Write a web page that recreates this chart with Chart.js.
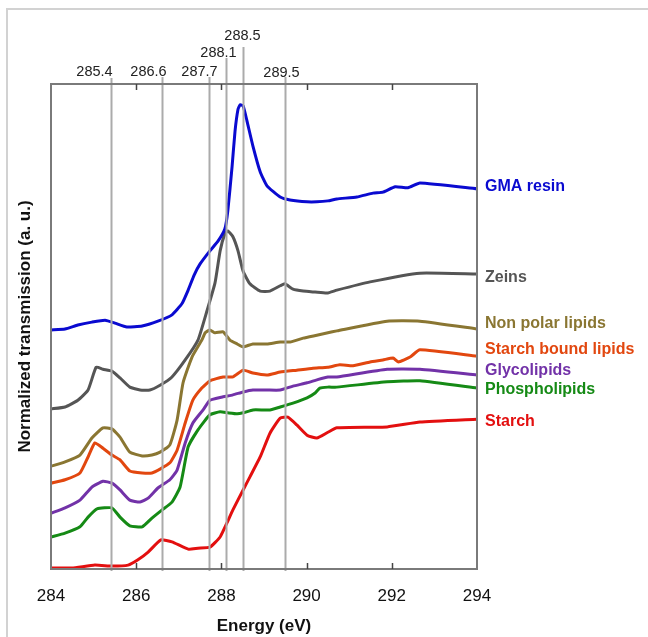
<!DOCTYPE html>
<html>
<head>
<meta charset="utf-8">
<title>C K-edge spectra</title>
<script src="https://cdn.jsdelivr.net/npm/chart.js@4.4.1/dist/chart.umd.min.js"></script>
<style>
  html, body { margin: 0; padding: 0; background: #fff; }
  #wrap { position: relative; width: 648px; height: 637px; overflow: hidden; }
  #frame { position: absolute; left: 6px; top: 8px; width: 700px; height: 700px;
           border-left: 2px solid #d2d2d2; border-top: 2px solid #d2d2d2; }
  #spectra { position: absolute; left: 0; top: 0; }
</style>
</head>
<body>
<div id="wrap">
  <div id="frame"></div>
  <canvas id="spectra" width="648" height="637"></canvas>
</div>
<script>
// energies (eV) and normalized transmission (a.u.)
const gmaE = [284.0, 284.33, 284.63, 284.96, 285.27, 285.5, 285.78, 286.14, 286.51, 286.84, 287.08, 287.22, 287.36, 287.5, 287.73, 287.92, 288.08, 288.15, 288.25, 288.32, 288.39, 288.44, 288.51, 288.6, 288.74, 288.91, 289.07, 289.38, 289.61, 290.01, 290.24, 290.5, 290.71, 291.18, 291.56, 291.79, 292.08, 292.38, 292.66, 294.0];
const gmaT = [49.3, 49.5, 50.3, 50.9, 51.3, 50.7, 49.9, 50.1, 51.1, 52.4, 54.8, 57.5, 60.6, 62.9, 65.6, 67.6, 70.1, 73.8, 82.9, 90.3, 94.8, 95.7, 95.5, 92.4, 87.2, 81.9, 79.0, 76.7, 76.1, 75.7, 75.7, 75.9, 76.3, 76.7, 77.5, 77.7, 78.8, 78.6, 79.6, 78.4];

const zeinE = [284.0, 284.33, 284.63, 284.87, 285.06, 285.22, 285.43, 285.62, 285.85, 286.09, 286.32, 286.56, 286.84, 287.15, 287.45, 287.66, 287.85, 287.97, 288.08, 288.15, 288.27, 288.39, 288.51, 288.67, 288.91, 289.14, 289.38, 289.49, 289.68, 289.92, 290.2, 290.48, 290.71, 291.49, 292.66, 294.0];
const zeinT = [33.0, 33.4, 34.8, 36.9, 41.6, 41.2, 40.8, 39.4, 37.5, 36.9, 36.9, 37.9, 39.6, 43.1, 47.2, 53.2, 59.0, 65.6, 69.1, 69.7, 68.5, 65.6, 61.4, 58.8, 57.3, 57.3, 58.4, 58.8, 57.7, 57.3, 57.1, 56.9, 57.5, 59.2, 61.0, 60.8];

const nonPolarE = [284.0, 284.33, 284.68, 284.96, 285.22, 285.43, 285.62, 285.85, 286.14, 286.37, 286.56, 286.79, 286.96, 287.1, 287.31, 287.54, 287.62, 287.73, 287.85, 288.04, 288.2, 288.37, 288.51, 288.74, 289.07, 289.38, 289.61, 289.92, 290.24, 290.5, 290.71, 291.89, 292.66, 294.0];
const nonPolarT = [21.2, 22.1, 23.5, 27.0, 29.1, 28.9, 27.2, 24.1, 23.3, 23.5, 24.1, 25.6, 30.7, 38.4, 43.7, 47.2, 48.7, 49.3, 48.7, 48.9, 47.2, 46.4, 45.8, 46.4, 46.4, 46.8, 46.8, 47.6, 48.2, 48.7, 49.1, 51.1, 51.1, 49.5];

const boundE = [284.0, 284.33, 284.68, 284.87, 285.03, 285.22, 285.43, 285.62, 285.85, 286.14, 286.37, 286.56, 286.79, 286.96, 287.15, 287.33, 287.54, 287.73, 288.04, 288.27, 288.51, 288.74, 289.07, 289.38, 289.77, 290.15, 290.5, 290.78, 291.09, 291.49, 291.79, 292.03, 292.15, 292.43, 292.66, 294.0];
const boundT = [17.7, 18.4, 19.8, 23.1, 26.0, 24.9, 23.5, 22.5, 20.2, 19.8, 19.8, 20.6, 21.9, 24.5, 30.1, 34.8, 37.3, 38.8, 39.6, 39.6, 41.0, 40.4, 40.0, 40.6, 41.0, 41.4, 41.6, 42.1, 41.9, 42.7, 43.1, 43.5, 42.7, 43.7, 45.2, 43.9];

const glycoE = [284.0, 284.33, 284.68, 284.96, 285.22, 285.43, 285.62, 285.85, 286.09, 286.28, 286.51, 286.79, 286.96, 287.15, 287.33, 287.57, 287.73, 288.04, 288.27, 288.51, 288.74, 289.07, 289.38, 289.68, 290.01, 290.24, 290.5, 290.71, 291.89, 292.66, 294.0];
const glycoT = [11.5, 12.6, 14.2, 16.9, 18.1, 17.7, 16.3, 14.2, 13.8, 14.6, 16.7, 18.4, 20.4, 26.0, 30.1, 32.8, 34.8, 35.5, 35.9, 36.5, 36.9, 36.9, 36.9, 37.7, 38.4, 39.0, 39.6, 39.6, 41.2, 41.2, 40.0];

const phosphoE = [284.0, 284.33, 284.68, 284.87, 285.08, 285.43, 285.62, 285.85, 286.14, 286.37, 286.61, 286.84, 287.03, 287.22, 287.45, 287.73, 287.97, 288.15, 288.37, 288.51, 288.74, 289.14, 289.38, 289.68, 290.01, 290.2, 290.31, 290.5, 290.71, 291.89, 292.66, 294.0];
const phosphoT = [6.6, 7.4, 8.7, 10.7, 12.4, 12.6, 10.7, 8.9, 8.7, 10.5, 12.2, 13.8, 16.9, 25.2, 28.7, 31.8, 32.4, 32.2, 32.0, 32.2, 32.8, 32.8, 33.4, 34.2, 35.3, 36.3, 37.3, 37.5, 37.5, 38.6, 38.8, 37.3];

const starchE = [284.0, 284.49, 285.03, 285.43, 285.81, 286.04, 286.28, 286.58, 286.84, 287.22, 287.45, 287.73, 287.97, 288.13, 288.27, 288.51, 288.67, 288.91, 289.14, 289.38, 289.56, 289.77, 290.01, 290.24, 290.5, 290.71, 291.89, 292.66, 294.0];
const starchT = [0.2, 0.2, 0.8, 0.6, 0.8, 1.9, 3.5, 6.0, 5.6, 4.1, 4.3, 4.5, 6.6, 9.5, 12.2, 16.3, 19.0, 23.1, 28.0, 31.1, 31.3, 29.7, 27.6, 27.0, 28.2, 29.1, 29.3, 30.3, 30.9];

const seriesNames = ['GMA resin', 'Zeins', 'Non polar lipids', 'Starch bound lipids', 'Glycolipids', 'Phospholipids', 'Starch'];
const seriesLabelAt = [78.8, 60.0, 50.7, 45.2, 41.0, 36.9, 30.3];   // where the name sits beside the plot
const peakEnergies = [285.4, 286.6, 287.7, 288.1, 288.5, 289.5];
const peakLabels = ['285.4', '286.6', '287.7', '288.1', '288.5', '289.5'];
const xTicks = [284, 286, 288, 290, 292, 294];

// styling
const colors = ['#0a0ad0', '#555555', '#8a7632', '#e2470f', '#7232a8', '#158a15', '#e30f0f'];
const peakLabelShift = [-17, -14, -10, -8, -1, -4];
const peakLabelY = [72, 72, 72, 53, 36, 73];
const peakLineTop = [78, 77, 77, 58, 47, 77];
const FONT = "'Liberation Sans', Arial, sans-serif";

const seriesE = [gmaE, zeinE, nonPolarE, boundE, glycoE, phosphoE, starchE];
const seriesT = [gmaT, zeinT, nonPolarT, boundT, glycoT, phosphoT, starchT];

const datasets = seriesNames.map((name, i) => ({
    label: name,
    data: seriesE[i].map((e, k) => ({ x: e, y: seriesT[i][k] })),
    borderColor: colors[i],
    borderWidth: 3,
    pointRadius: 0,
    tension: 0.15,
    fill: false
}));

const decorations = {
    id: 'decorations',
    afterDatasetsDraw(chart) {
        const { ctx, chartArea: a, scales: { x, y } } = chart;
        ctx.save();
        // reference energies
        ctx.strokeStyle = '#ababab';
        ctx.lineWidth = 2;
        ctx.fillStyle = '#222';
        ctx.font = '14.5px ' + FONT;
        ctx.textAlign = 'center';
        ctx.textBaseline = 'middle';
        peakEnergies.forEach((e, i) => {
            const px = Math.round(x.getPixelForValue(e)) + 0.5;
            ctx.beginPath();
            ctx.moveTo(px, peakLineTop[i]);
            ctx.lineTo(px, a.bottom + 2);
            ctx.stroke();
            ctx.fillText(peakLabels[i], px + peakLabelShift[i], peakLabelY[i]);
        });
        // plot frame
        ctx.strokeStyle = '#7a7a7a';
        ctx.lineWidth = 2;
        ctx.strokeRect(a.left, a.top, a.right - a.left, a.bottom - a.top);
        // inward tick marks
        ctx.lineWidth = 1.5;
        ctx.strokeStyle = '#444';
        xTicks.slice(1, -1).forEach(t => {
            const px = Math.round(x.getPixelForValue(t)) + 0.5;
            ctx.beginPath();
            ctx.moveTo(px, a.bottom); ctx.lineTo(px, a.bottom - 6);
            ctx.moveTo(px, a.top); ctx.lineTo(px, a.top + 6);
            ctx.stroke();
        });
        // series names
        ctx.font = 'bold 16px ' + FONT;
        ctx.textAlign = 'left';
        seriesNames.forEach((n, i) => {
            ctx.fillStyle = colors[i];
            ctx.fillText(n, a.right + 8, y.getPixelForValue(seriesLabelAt[i]));
        });
        ctx.restore();
    }
};

new Chart(document.getElementById('spectra').getContext('2d'), {
    type: 'line',
    data: { datasets },
    options: {
        responsive: false,
        animation: false,
        layout: { padding: { top: 84, right: 171, left: 0, bottom: 0 } },
        plugins: { legend: { display: false }, tooltip: { enabled: false } },
        scales: {
            x: {
                type: 'linear',
                min: 284,
                max: 294,
                afterBuildTicks: s => { s.ticks = xTicks.map(v => ({ value: v })); },
                afterFit: s => { s.height = 68; },
                grid: { display: false, drawTicks: false },
                border: { display: false },
                ticks: { color: '#111', padding: 17, font: { family: FONT, size: 17 } },
                title: {
                    display: true,
                    text: 'Energy (eV)',
                    color: '#111',
                    padding: { top: 0, bottom: 0 },
                    font: { family: FONT, size: 17, weight: 'bold' }
                }
            },
            y: {
                min: 0,
                max: 100,
                afterFit: s => { s.width = 51; },
                grid: { display: false, drawTicks: false },
                border: { display: false },
                ticks: { display: false },
                title: {
                    display: true,
                    text: 'Normalized transmission (a. u.)',
                    color: '#111',
                    padding: { top: 15, bottom: 0 },
                    font: { family: FONT, size: 17, weight: 'bold' }
                }
            }
        }
    },
    plugins: [decorations]
});
</script>
</body>
</html>
